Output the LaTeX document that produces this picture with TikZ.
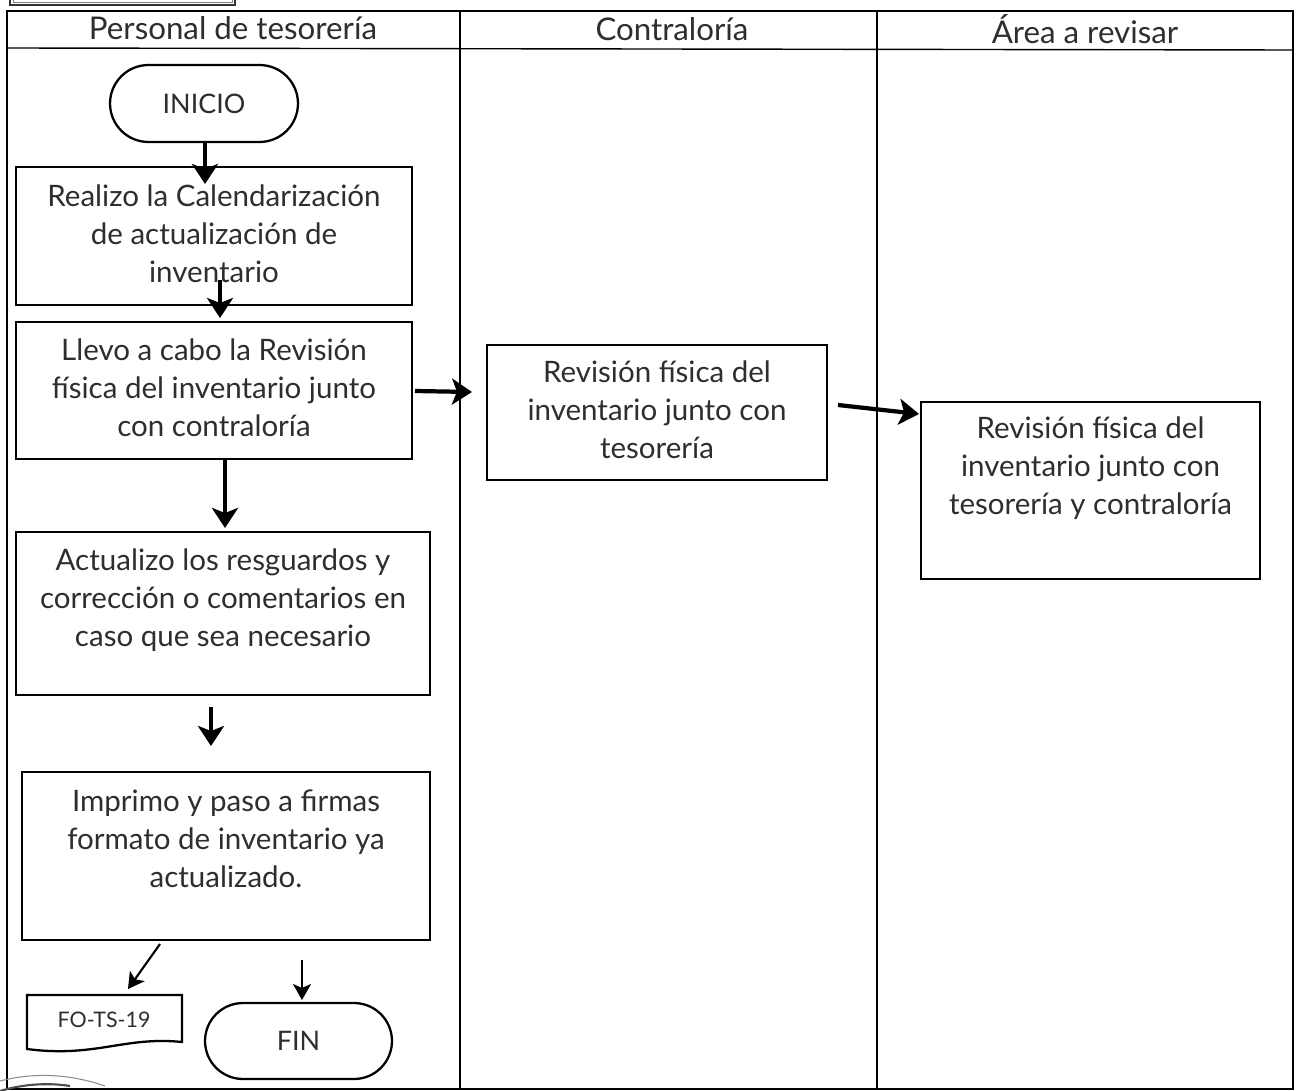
\documentclass[tikz,border=0pt]{standalone}
\usepackage{fontspec}
\setmainfont{Lato}
\usetikzlibrary{arrows.meta}
\definecolor{ink}{HTML}{2E2E2E}
\newcommand\bodyfont{\fontsize{16.8}{21.6}\selectfont}
\newcommand\headfont{\fontsize{17.8}{21.6}\selectfont}
\newcommand\termfont{\fontsize{15.3}{18}\selectfont}
\newcommand\smallfont{\fontsize{12.2}{14}\selectfont}
\tikzset{
  lane/.style={draw=black, line width=0.8pt},
  procbox/.style={draw=black, line width=1.3pt, rectangle, inner sep=0pt},
  term/.style={draw=black, line width=1.3pt, rectangle, inner sep=0pt, font=\termfont, text=ink},
  txt/.style={align=center, font=\bodyfont, text=ink, inner sep=0pt},
  head/.style={font=\headfont, text=ink, inner sep=0pt, anchor=base},
  flow/.style={line width=2.4pt, -{Stealth[length=0.4cm, width=0.52cm, inset=0.1cm]}},
  thinflow/.style={line width=1.2pt, -{Stealth[length=0.32cm, width=0.36cm, inset=0.08cm]}},
}
\begin{document}
\begin{tikzpicture}[x=0.02cm, y=-0.02cm]
\useasboundingbox (0,0) rectangle (1298,1091);
\clip (0,0) rectangle (1298,1091);
\fill[white] (0,0) rectangle (1298,1091);

% swimlane frame and header row
\draw[lane] (7,11) rectangle (1293,1089);
\draw[lane] (7,48) -- (1293,50);
\draw[lane] (460,11) -- (460,1089);
\draw[lane] (877,11) -- (877,1089);
% label box above the frame
\draw[line width=1pt, draw=black!80] (10,-10) rectangle (235,5);
\draw[line width=0.5pt, draw=black!50] (13,-10) rectangle (232,2);

\node[head] (h1) at (233,40) {Personal de tesorería};
\node[head] (h2) at (672,41) {Contraloría};
\node[head] (h3) at (1085,44) {Área a revisar};

% start / end terminals
\node[term, minimum width=3.76cm, minimum height=1.54cm, rounded corners=0.77cm] (inicio) at (204,103.5) {INICIO};
\node[term, minimum width=3.74cm, minimum height=1.52cm, rounded corners=0.76cm] (fin) at (298.5,1041) {FIN};

% process boxes
\node[procbox, minimum width=7.92cm, minimum height=2.76cm] (b1) at (214,236) {};
\node[txt] (t1) at (214,234) {Realizo la Calendarización\\de actualización de\\inventario};
\node[procbox, minimum width=7.92cm, minimum height=2.74cm] (b2) at (214,390.5) {};
\node[txt] (t2) at (214,388) {Llevo a cabo la Revisión\\física del inventario junto\\con contraloría};
\node[procbox, minimum width=8.28cm, minimum height=3.26cm] (b3) at (223,613.5) {};
\node[txt] (t3) at (223,600) {Actualizo los resguardos y\\corrección o comentarios en\\caso que sea necesario};
\node[procbox, minimum width=8.16cm, minimum height=3.36cm] (b4) at (226,856) {};
\node[txt] (t4) at (226,839) {Imprimo y paso a firmas\\formato de inventario ya\\actualizado.};
\node[procbox, minimum width=6.8cm, minimum height=2.7cm] (c1) at (657,412.5) {};
\node[txt] (tc1) at (657,410) {Revisión física del\\inventario junto con\\tesorería};
\node[procbox, minimum width=6.78cm, minimum height=3.54cm] (r1) at (1090.5,490.5) {};
\node[txt] (tr1) at (1090.5,468) {Revisión física del\\inventario junto con\\tesorería y contraloría};

% document symbol
\draw[line width=1.3pt] (27,995) -- (182,995) -- (182,1042)
  .. controls (125,1036) and (95,1058) .. (27,1049) -- cycle;
\node[font=\smallfont, text=ink, inner sep=0pt] (doc) at (104,1020) {FO-TS-19};

% connector end points
\coordinate (a1e) at (205,184);
\coordinate (a2s) at (220,280);
\coordinate (a2e) at (220,318);
\coordinate (a3s) at (225,460);
\coordinate (a3e) at (225,528);
\coordinate (a4s) at (211,707);
\coordinate (a4e) at (211,746);
\coordinate (a5s) at (415,391);
\coordinate (a5e) at (472,392);
\coordinate (a6s) at (838,405);
\coordinate (a6e) at (919,414);
\coordinate (a7s) at (160,944);
\coordinate (a7e) at (128,989);
\coordinate (a8s) at (302,960);
\coordinate (a8e) at (302,1000);

\draw[flow] (inicio.south -| a1e) -- (a1e);
\draw[flow] (a2s) -- (a2e);
\draw[flow] (a3s) -- (a3e);
\draw[flow] (a4s) -- (a4e);
\draw[flow] (a5s) -- (a5e);
\draw[flow] (a6s) -- (a6e);
\draw[thinflow] (a7s) -- (a7e);
\draw[thinflow] (a8s) -- (a8e);

% stamp edge at the lower left
\draw[black!45, line width=0.6pt] (0,1081) .. controls (35,1072) and (70,1074) .. (105,1086);
\draw[black!70, line width=1.2pt] (0,1091) .. controls (20,1085) and (45,1082) .. (70,1086);
\end{tikzpicture}
\end{document}
